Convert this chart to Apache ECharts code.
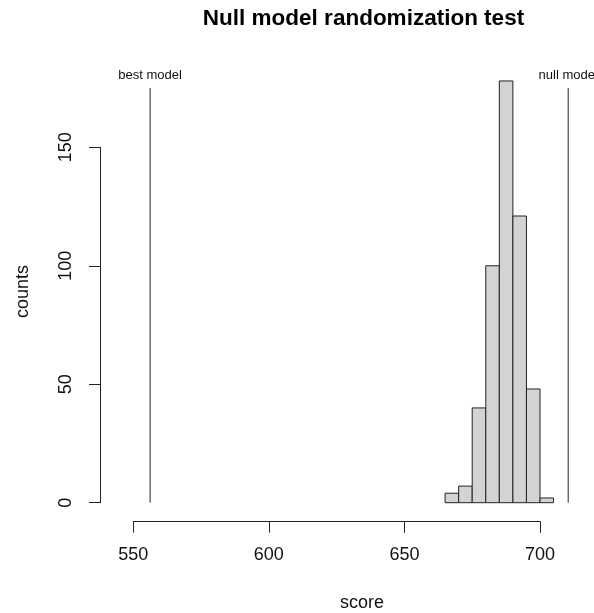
<!DOCTYPE html>
<html>
<head>
<meta charset="utf-8">
<script src="https://cdn.jsdelivr.net/npm/echarts@6/dist/echarts.min.js"></script>
<style>
  html, body { margin: 0; padding: 0; background: #fff; }
  #main { width: 594px; height: 613px; }
</style>
</head>
<body>
<div id="main"></div>
<script>
// histogram bins (score) and counts
var binEdges = [665, 670, 675, 680, 685, 690, 695, 700, 705];
var counts = [4, 7, 40, 100, 178, 121, 48, 2];
// reference lines
var refNames = ['best model', 'null model'];
var refScores = [556.2, 710.4];
var refTop = 175;
var refLabelY = 180.5;
// axis ticks
var xTicks = [550, 600, 650, 700];
var yTicks = [0, 50, 100, 150];

var font = "'Liberation Sans', Arial, sans-serif";

var histData = counts.map(function (c, i) {
  return [binEdges[i], binEdges[i + 1], c];
});
var refData = refScores.map(function (s, i) {
  return [s, refNames[i]];
});

var chart = echarts.init(document.getElementById('main'), null, { renderer: 'canvas' });

var option = {
  backgroundColor: '#ffffff',
  animation: false,
  textStyle: { fontFamily: font },
  grid: {
    left: 133.3,
    right: 54,
    top: 147.3,
    bottom: 110.3
  },
  xAxis: {
    type: 'value',
    min: xTicks[0],
    max: xTicks[xTicks.length - 1],
    interval: 50,
    offset: 19,
    axisLine: { show: true, onZero: false, lineStyle: { color: '#222', width: 1 } },
    axisTick: { show: true, inside: false, length: 11, lineStyle: { color: '#222' } },
    axisLabel: { fontSize: 18, color: '#111', margin: 24, fontFamily: font },
    splitLine: { show: false }
  },
  yAxis: {
    type: 'value',
    min: yTicks[0],
    max: yTicks[yTicks.length - 1],
    interval: 50,
    offset: 33.3,
    axisLine: { show: true, onZero: false, lineStyle: { color: '#222', width: 1 } },
    axisTick: { show: true, inside: false, length: 11, lineStyle: { color: '#222' } },
    axisLabel: { fontSize: 18, color: '#111', margin: 25, rotate: 90, fontFamily: font },
    splitLine: { show: false }
  },
  graphic: [
    {
      type: 'text',
      x: 363.5, y: 19,
      style: {
        text: 'Null model randomization test',
        font: 'bold 22.5px ' + font,
        fill: '#000',
        align: 'center',
        verticalAlign: 'middle'
      }
    },
    {
      type: 'text',
      x: 362, y: 603,
      style: {
        text: 'score',
        font: '18px ' + font,
        fill: '#111',
        align: 'center',
        verticalAlign: 'middle'
      }
    },
    {
      type: 'text',
      x: 23, y: 291.5,
      rotation: Math.PI / 2,
      style: {
        text: 'counts',
        font: '18px ' + font,
        fill: '#111',
        align: 'center',
        verticalAlign: 'middle'
      }
    }
  ],
  series: [
    {
      type: 'custom',
      clip: false,
      data: histData,
      renderItem: function (params, api) {
        var p0 = api.coord([api.value(0), api.value(2)]);
        var p1 = api.coord([api.value(1), 0]);
        return {
          type: 'rect',
          shape: { x: p0[0], y: p0[1], width: p1[0] - p0[0], height: p1[1] - p0[1] },
          style: { fill: '#d3d3d3', stroke: '#222', lineWidth: 1 }
        };
      }
    },
    {
      type: 'custom',
      clip: false,
      data: refData,
      renderItem: function (params, api) {
        var x = api.value(0);
        var a = api.coord([x, 0]);
        var b = api.coord([x, refTop]);
        var t = api.coord([x, refLabelY]);
        return {
          type: 'group',
          children: [
            {
              type: 'line',
              shape: { x1: a[0], y1: a[1], x2: b[0], y2: b[1] },
              style: { stroke: '#222', lineWidth: 1 }
            },
            {
              type: 'text',
              x: t[0], y: t[1],
              style: {
                text: refNames[params.dataIndex],
                font: '13px ' + font,
                fill: '#111',
                align: 'center',
                verticalAlign: 'middle'
              }
            }
          ]
        };
      }
    }
  ]
};

chart.setOption(option);
</script>
</body>
</html>
